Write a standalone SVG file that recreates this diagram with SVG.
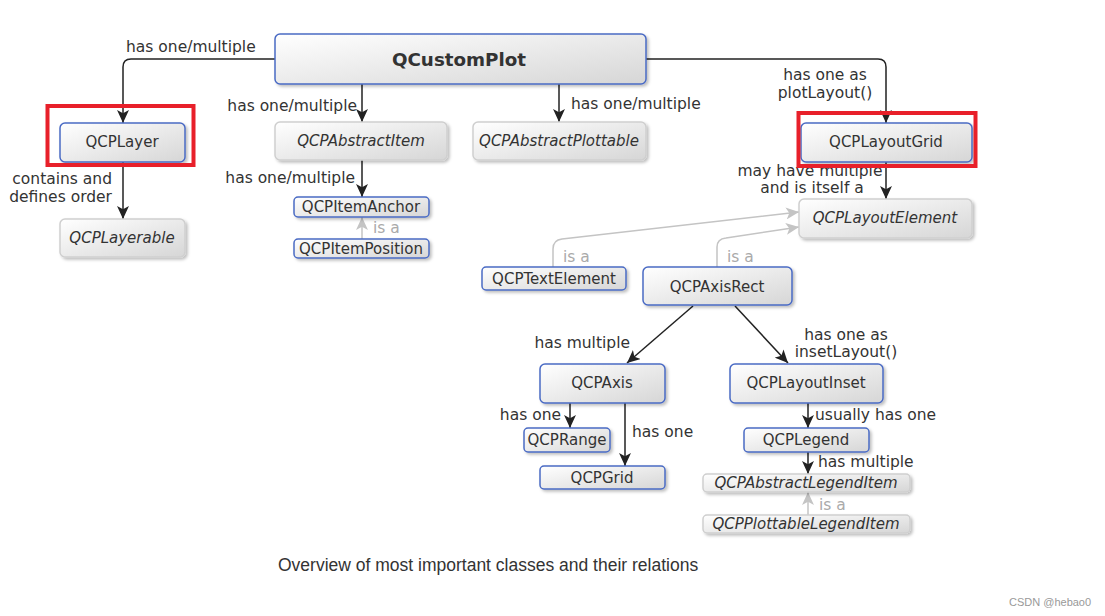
<svg xmlns="http://www.w3.org/2000/svg" width="1105" height="616" viewBox="0 0 1105 616">
<style>
  .node rect.box { fill: url(#g); stroke: #4a6bc4; stroke-width: 1.5; filter: url(#sh); }
  .node.abs rect.box { stroke: #cfcfcf; }
  .node text { font-family: "DejaVu Sans", sans-serif; font-size: 15px; fill: #333; text-anchor: middle; }
  .node.abs text { font-style: italic; }
  .lbl { font-family: "DejaVu Sans", sans-serif; font-size: 15.5px; fill: #333; }
  .isa { fill: #aaa; }
  .c path { fill: none; stroke: #222; stroke-width: 1.5; marker-end: url(#ar); }
  .c path.g { stroke: #c4c4c4; marker-end: url(#arg); }
  .hl { fill: none; stroke: #e8202a; stroke-width: 4; }
</style>
<defs>
  <linearGradient id="g" x1="0" y1="0" x2="1" y2="1">
    <stop offset="0" stop-color="#ffffff"/>
    <stop offset="1" stop-color="#d6d6d6"/>
  </linearGradient>
  <filter id="sh" x="-10%" y="-20%" width="130%" height="160%">
    <feDropShadow dx="2" dy="2" stdDeviation="1.5" flood-color="#000" flood-opacity="0.25"/>
  </filter>
  <marker id="ar" viewBox="0 0 12 11" refX="12" refY="5.5" markerWidth="13" markerHeight="12" markerUnits="userSpaceOnUse" orient="auto">
    <path d="M0,0 L12,5.5 L0,11 L3,5.5 Z" fill="#222"/>
  </marker>
  <marker id="arg" viewBox="0 0 12 11" refX="12" refY="5.5" markerWidth="13" markerHeight="12" markerUnits="userSpaceOnUse" orient="auto">
    <path d="M0,0 L12,5.5 L0,11 L3,5.5 Z" fill="#c4c4c4"/>
  </marker>
</defs>
<rect width="1105" height="616" fill="#fff"/>

<g id="connectors" class="c">
  <path d="M275,59 H131 Q123,59 123,67 V123"/>
  <path d="M362,84 V122"/>
  <path d="M559,84 V122"/>
  <path d="M646,59 H878 Q886,59 886,67 V123"/>
  <path d="M123,162 V219"/>
  <path d="M362,160 V197"/>
  <path class="g" d="M362,239 V217"/>
  <path d="M886,162 V199"/>
  <path class="g" d="M553,267 V249 Q553,240 562,239 L799,212"/>
  <path class="g" d="M717,267 V247 Q717,239 726,238 L799,227"/>
  <path d="M693,306 L627,363"/>
  <path d="M735,306 L788,363"/>
  <path d="M570,403 V428"/>
  <path d="M625,403 V466"/>
  <path d="M808,403 V428"/>
  <path d="M808,452 V474"/>
  <path class="g" d="M808,515 V492"/>
</g>

<g id="labels" class="lbl">
  <text class="lbl" x="126" y="52">has one/multiple</text>
  <text class="lbl" x="112" y="184" text-anchor="end">contains and</text>
  <text class="lbl" x="112" y="202" text-anchor="end">defines order</text>
  <text class="lbl" x="357" y="111" text-anchor="end">has one/multiple</text>
  <text class="lbl" x="571" y="109">has one/multiple</text>
  <text class="lbl" x="355" y="183" text-anchor="end">has one/multiple</text>
  <text class="lbl isa" x="373" y="233">is a</text>
  <text class="lbl" x="825" y="80" text-anchor="middle">has one as</text>
  <text class="lbl" x="825" y="98" text-anchor="middle">plotLayout()</text>
  <text class="lbl" x="810" y="176" text-anchor="middle">may have multiple</text>
  <text class="lbl" x="812" y="193" text-anchor="middle">and is itself a</text>
  <text class="lbl isa" x="563" y="262">is a</text>
  <text class="lbl isa" x="727" y="262">is a</text>
  <text class="lbl" x="630" y="348" text-anchor="end">has multiple</text>
  <text class="lbl" x="846" y="340" text-anchor="middle">has one as</text>
  <text class="lbl" x="846" y="357" text-anchor="middle">insetLayout()</text>
  <text class="lbl" x="561" y="420" text-anchor="end">has one</text>
  <text class="lbl" x="632" y="437">has one</text>
  <text class="lbl" x="815" y="420">usually has one</text>
  <text class="lbl" x="818" y="467">has multiple</text>
  <text class="lbl isa" x="819" y="510">is a</text>
</g>

<g id="QCustomPlot" class="node"><rect class="box" x="275" y="34" width="371" height="50" rx="5"/><text x="459" y="66" style="font-weight:bold;font-size:18.3px">QCustomPlot</text></g>
<g id="QCPLayer" class="node"><rect class="box" x="60" y="123" width="125" height="39" rx="5"/><text x="122" y="147">QCPLayer</text></g>
<g id="QCPLayerable" class="node abs"><rect class="box" x="60" y="219" width="125" height="38" rx="5"/><text x="122" y="243">QCPLayerable</text></g>
<g id="QCPAbstractItem" class="node abs"><rect class="box" x="275" y="122" width="172" height="38" rx="5"/><text x="361" y="146">QCPAbstractItem</text></g>
<g id="QCPAbstractPlottable" class="node abs"><rect class="box" x="473" y="122" width="173" height="38" rx="5"/><text x="559" y="146">QCPAbstractPlottable</text></g>
<g id="QCPItemAnchor" class="node"><rect class="box" x="294" y="197" width="135" height="20" rx="4"/><text x="361" y="212">QCPItemAnchor</text></g>
<g id="QCPItemPosition" class="node"><rect class="box" x="294" y="239" width="135" height="19" rx="4"/><text x="361" y="254">QCPItemPosition</text></g>
<g id="QCPLayoutGrid" class="node"><rect class="box" x="801" y="123" width="171" height="39" rx="5"/><text x="886" y="147">QCPLayoutGrid</text></g>
<g id="QCPLayoutElement" class="node abs"><rect class="box" x="799" y="199" width="173" height="39" rx="5"/><text x="885" y="223">QCPLayoutElement</text></g>
<g id="QCPTextElement" class="node"><rect class="box" x="482" y="267" width="144" height="23" rx="4"/><text x="554" y="284">QCPTextElement</text></g>
<g id="QCPAxisRect" class="node"><rect class="box" x="643" y="267" width="149" height="38" rx="5"/><text x="717" y="292">QCPAxisRect</text></g>
<g id="QCPAxis" class="node"><rect class="box" x="540" y="364" width="125" height="39" rx="5"/><text x="602" y="388">QCPAxis</text></g>
<g id="QCPLayoutInset" class="node"><rect class="box" x="730" y="364" width="153" height="39" rx="5"/><text x="806" y="388">QCPLayoutInset</text></g>
<g id="QCPRange" class="node"><rect class="box" x="524" y="428" width="86" height="24" rx="4"/><text x="567" y="445">QCPRange</text></g>
<g id="QCPGrid" class="node"><rect class="box" x="540" y="466" width="125" height="23" rx="4"/><text x="602" y="483">QCPGrid</text></g>
<g id="QCPLegend" class="node"><rect class="box" x="744" y="428" width="125" height="24" rx="4"/><text x="806" y="445">QCPLegend</text></g>
<g id="QCPAbstractLegendItem" class="node abs"><rect class="box" x="703" y="474" width="207" height="18" rx="4"/><text x="806" y="488">QCPAbstractLegendItem</text></g>
<g id="QCPPlottableLegendItem" class="node abs"><rect class="box" x="703" y="515" width="207" height="18" rx="4"/><text x="806" y="529">QCPPlottableLegendItem</text></g>

<rect class="hl" x="47.5" y="106" width="146" height="59"/>
<rect class="hl" x="798.5" y="113" width="177" height="53"/>

<text x="278" y="571" style="font-family:'Liberation Sans',Arial,sans-serif;font-size:17.5px;fill:#333">Overview of most important classes and their relations</text>
<text x="1009" y="606" style="font-family:'Liberation Sans',Arial,sans-serif;font-size:11px;fill:#999">CSDN @hebao0</text>
</svg>
